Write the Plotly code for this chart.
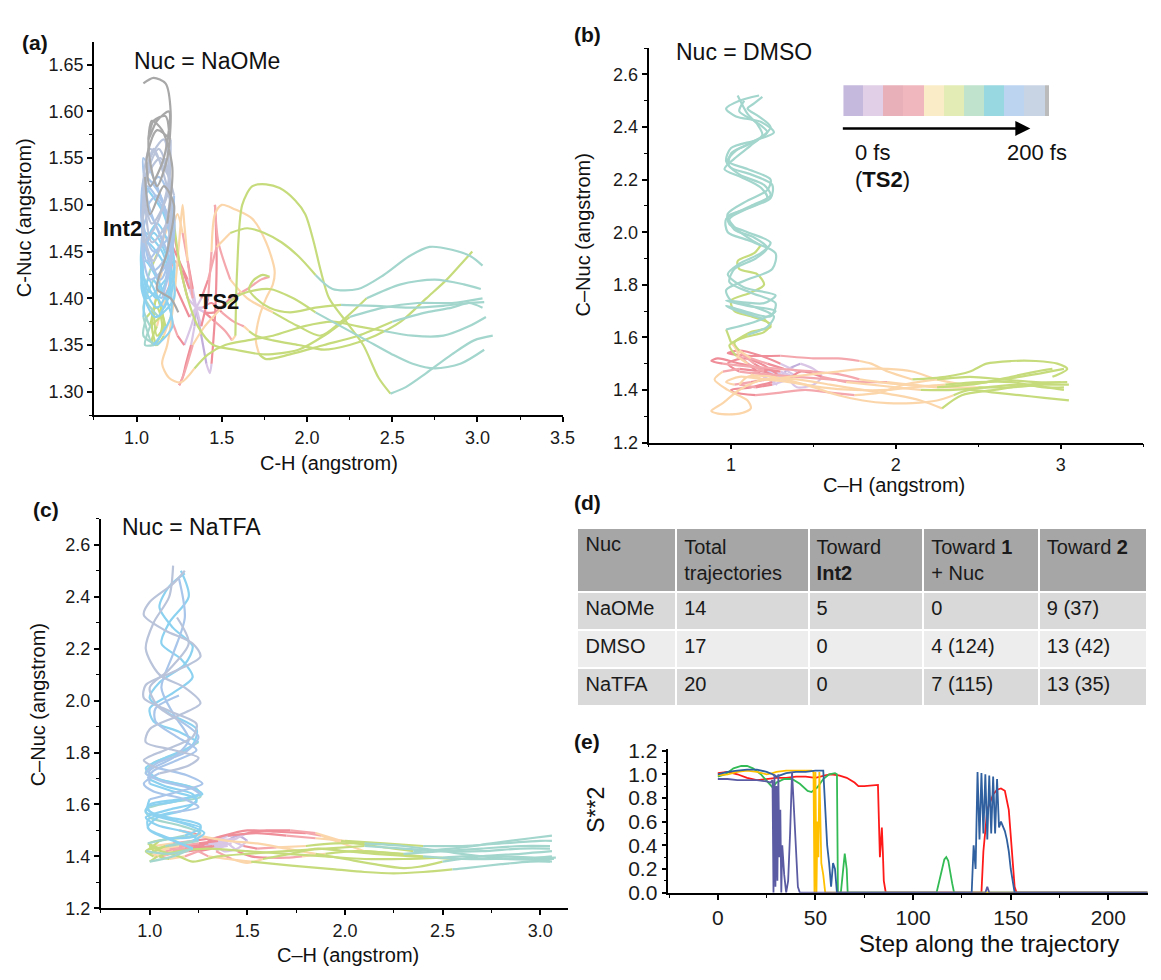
import plotly.graph_objects as go

W, H = 1161, 980
FONT = "Liberation Sans, Arial, sans-serif"


def px(x):
    return min(1.0, max(0.0, x / W))


def py(y):
    return min(1.0, max(0.0, 1 - y / H))


# ---------------- colours (time blocks 0..200 fs) ----------------
LINE_COLORS = ['#c2aedb', '#d9c6e6', '#ef8d98', '#f4a7ad', '#fcd6ab', '#c6dc7c',
               '#a3d6cd', '#8cd2f0', '#a9c6ea', '#b9c3da', '#a8a8a8']
BLOCK_COLORS = ['#c5b9de', '#e0cfe6', '#e8b0b8', '#f0b8be', '#faecc6', '#e3ecb4',
                '#bfe3cc', '#98d8e0', '#bcd4f0', '#c8d4e4']
BLOCK_END_COLOR = '#bbbbbb'

# ---------------- panel (a): Nuc = NaOMe ----------------
a_x = [
    [1.35,1.30,1.25,1.20,1.15,1.10,1.12,1.16,1.12,1.08,1.05,1.10,1.20,1.18,1.06,1.03,1.12,1.22,1.16,1.05,1.04,1.14,1.21,1.12,1.04,1.07,1.18,1.20,1.10,1.05,1.09,1.20,1.17],
    [1.35,1.31,1.27,1.22,1.19,1.14,1.08,1.04,1.10,1.19,1.22,1.12,1.04,1.06,1.15,1.21,1.14,1.05,1.03,1.10,1.19,1.22,1.14,1.06,1.04,1.10,1.18,1.21,1.15,1.09,1.07,1.12,1.18,1.20,1.17,1.10,1.04],
    [1.35,1.32,1.28,1.24,1.20,1.16,1.12,1.09,1.12,1.17,1.10,1.04,1.07,1.16,1.20,1.10,1.03,1.06,1.17,1.21,1.12,1.04,1.06,1.15,1.20,1.13,1.05,1.08,1.16,1.22,1.18,1.12,1.20,1.245],
    [1.35,1.30,1.26,1.22,1.21,1.15,1.08,1.05,1.13,1.20,1.15,1.05,1.03,1.12,1.21,1.17,1.06,1.03,1.10,1.20,1.19,1.08,1.04,1.09,1.18,1.20,1.12,1.06,1.08,1.16,1.19,1.12,1.07,1.10,1.17,1.19],
    [1.35,1.31,1.26,1.21,1.16,1.12,1.09,1.11,1.15,1.12,1.06,1.04,1.12,1.21,1.15,1.05,1.03,1.11,1.22,1.18,1.07,1.03,1.08,1.19,1.22,1.13,1.05,1.04,1.12,1.19,1.16,1.08,1.05],
    [1.35,1.40,1.46,1.52,1.56,1.58,1.59,1.62,1.68,1.76,1.84,1.93,1.99,2.04,2.08,2.13,2.23,2.33,2.42,2.49,2.58,2.70,2.85,2.98,3.09],
    [1.35,1.38,1.42,1.44,1.46,1.50,1.58,1.68,1.76,1.81,1.80,1.76,1.72,1.70,1.72,1.76,1.90,2.10,2.30,2.50,2.70,2.85,2.95,3.03],
    [1.35,1.39,1.44,1.50,1.57,1.63,1.66,1.70,1.80,1.95,2.10,2.25,2.40,2.55,2.70,2.82,2.92,2.97],
    [1.35,1.38,1.42,1.47,1.55,1.65,1.75,1.85,1.95,2.05,2.15,2.30,2.45,2.60,2.72,2.85,2.96,3.03],
    [1.35,1.33,1.30,1.27,1.24,1.22,1.25,1.30,1.36,1.45,1.58,1.75,1.95,2.10,2.25,2.45,2.65,2.85,3.03],
    [1.35,1.34,1.32,1.29,1.27,1.25,1.28,1.33,1.40,1.50,1.62,1.78,1.92,2.05,2.20,2.35,2.50,2.62,2.75,2.90,3.04],
    [1.35,1.40,1.46,1.55,1.65,1.73,1.78,1.74,1.69,1.66,1.70,1.78,1.90,2.05,2.20,2.40,2.60,2.80,2.95,3.04],
    [1.35,1.33,1.30,1.28,1.27,1.25,1.22,1.18,1.15,1.19,1.26,1.34,1.42,1.52,1.65,1.80,1.98,2.15,2.30,2.45,2.62,2.80,2.95,3.05],
    [1.35,1.38,1.41,1.43,1.44,1.46,1.47,1.465,1.46,1.48,1.55,1.65,1.80,1.95,2.08,2.20,2.35,2.55,2.75,2.92,3.02],
]
a_y = [
    [1.39,1.42,1.44,1.46,1.43,1.39,1.36,1.37,1.40,1.37,1.35,1.35,1.38,1.43,1.46,1.42,1.39,1.43,1.49,1.52,1.47,1.42,1.46,1.52,1.55,1.50,1.45,1.50,1.56,1.52,1.46,1.49,1.55],
    [1.39,1.41,1.43,1.44,1.41,1.38,1.37,1.39,1.42,1.40,1.44,1.48,1.45,1.41,1.40,1.45,1.51,1.53,1.48,1.43,1.45,1.51,1.55,1.53,1.47,1.44,1.48,1.54,1.58,1.59,1.56,1.52,1.55,1.60,1.63,1.636,1.63],
    [1.39,1.37,1.35,1.36,1.38,1.36,1.35,1.37,1.40,1.37,1.35,1.38,1.42,1.39,1.43,1.47,1.44,1.40,1.42,1.47,1.51,1.49,1.44,1.46,1.52,1.56,1.53,1.49,1.52,1.50,1.45,1.41,1.40,1.385],
    [1.39,1.40,1.43,1.47,1.49,1.46,1.43,1.40,1.38,1.41,1.45,1.47,1.43,1.40,1.44,1.49,1.52,1.49,1.45,1.47,1.53,1.56,1.52,1.48,1.51,1.57,1.58,1.55,1.52,1.55,1.60,1.59,1.57,1.59,1.595,1.58],
    [1.39,1.38,1.40,1.42,1.40,1.37,1.355,1.35,1.37,1.39,1.38,1.36,1.35,1.37,1.41,1.44,1.41,1.38,1.40,1.45,1.49,1.46,1.42,1.44,1.49,1.53,1.51,1.46,1.48,1.53,1.57,1.55,1.50],
    [1.39,1.385,1.375,1.365,1.355,1.36,1.43,1.50,1.52,1.522,1.518,1.505,1.49,1.46,1.43,1.40,1.375,1.35,1.315,1.298,1.305,1.32,1.34,1.355,1.36],
    [1.39,1.37,1.40,1.45,1.49,1.50,1.495,1.485,1.46,1.43,1.415,1.40,1.38,1.355,1.34,1.335,1.34,1.35,1.36,1.375,1.385,1.39,1.395,1.39],
    [1.39,1.39,1.395,1.385,1.375,1.37,1.365,1.36,1.355,1.35,1.345,1.35,1.36,1.375,1.40,1.42,1.44,1.45],
    [1.39,1.40,1.42,1.455,1.47,1.475,1.47,1.46,1.445,1.425,1.41,1.41,1.425,1.445,1.455,1.452,1.445,1.435],
    [1.39,1.41,1.44,1.47,1.49,1.48,1.44,1.40,1.37,1.35,1.345,1.34,1.345,1.36,1.38,1.39,1.395,1.395,1.40],
    [1.39,1.37,1.35,1.33,1.315,1.307,1.32,1.35,1.37,1.39,1.405,1.41,1.40,1.385,1.37,1.355,1.34,1.33,1.325,1.33,1.345],
    [1.39,1.385,1.385,1.40,1.41,1.42,1.423,1.425,1.42,1.41,1.40,1.39,1.385,1.39,1.393,1.392,1.39,1.392,1.395,1.396],
    [1.39,1.40,1.44,1.48,1.50,1.46,1.40,1.35,1.33,1.315,1.31,1.325,1.34,1.35,1.355,1.36,1.37,1.375,1.37,1.365,1.36,1.36,1.37,1.38],
    [1.39,1.36,1.33,1.32,1.33,1.38,1.44,1.48,1.50,1.46,1.42,1.40,1.385,1.37,1.36,1.375,1.40,1.415,1.42,1.415,1.41],
]
a_c = [
    [0,1,2,2,3,4,5,5,5,5,6,6,7,7,7,7,7,7,7,7,8,8,8,8,8,8,8,9,9,9,9,9,9],
    [0,1,2,3,3,4,5,6,6,7,7,7,7,7,7,8,8,8,8,8,8,8,9,9,9,9,9,10,10,10,10,10,10,10,10,10,10],
    [0,1,1,2,3,4,5,5,5,5,6,6,7,7,7,7,7,7,7,8,8,8,8,8,9,9,9,10,10,10,10,10,10,10],
    [0,1,2,2,3,4,5,6,6,7,7,7,7,7,7,8,8,8,8,8,8,9,9,9,9,9,10,10,10,10,10,10,10,10,10,10],
    [0,1,2,2,3,4,5,5,5,5,5,6,6,7,7,7,7,7,7,7,8,8,8,8,8,8,8,9,9,9,9,9,9],
    [0,1,2,3,3,4,5,5,5,5,5,5,5,5,5,5,5,5,5,5,6,6,6,6,6],
    [0,1,2,3,4,4,4,4,4,4,4,4,4,4,4,5,5,5,5,5,6,6,6,6],
    [0,1,2,2,3,3,4,5,5,5,5,5,5,5,5,5,5,5],
    [0,1,2,3,4,5,5,5,5,5,6,6,6,6,6,6,6,6],
    [0,1,2,3,4,4,5,5,5,5,5,5,5,5,5,6,6,6,6],
    [0,0,1,2,2,2,3,3,4,4,5,5,5,5,6,6,6,6,6,6,6],
    [0,1,2,2,3,3,3,5,5,5,5,5,5,5,5,6,6,6,6,6],
    [0,1,3,4,4,4,4,4,4,4,4,4,5,5,5,5,5,5,5,5,6,6,6,6],
    [0,0,0,1,1,2,2,2,2,3,3,4,4,5,5,5,5,6,6,6,6],
]

# ---------------- panel (b): Nuc = DMSO ----------------
b_x = [
    [1.40,1.32,1.22,1.12,1.05,1.02,1.10,1.22,1.26,1.12,1.00,0.97,1.10,1.25,1.27,1.10,0.98,0.97,1.12,1.24,1.20,1.05,0.97,1.00,1.15,1.26,1.18,1.03,0.97,1.05,1.17],
    [1.35,1.28,1.20,1.10,1.03,0.99,1.08,1.20,1.24,1.12,1.02,1.00,1.12,1.20,1.16,1.05,1.04,1.14,1.18,1.10,1.02,0.98,1.10,1.24,1.25,1.12,0.99,1.00,1.12,1.22,1.15,1.05,1.08],
    [1.30,1.22,1.14,1.06,1.00,0.97,1.15,1.27,1.10,0.97,1.20,1.27,1.08,0.98,1.05,1.18,1.24,1.10,0.99,0.98,1.10,1.22,1.24,1.10,0.98,1.03,1.16,1.24,1.17,1.10,1.14,1.19],
    [1.28,1.20,1.12,1.05,1.01,1.12,1.24,1.20,1.04,0.97,1.08,1.24,1.27,1.12,0.99,1.02,1.15,1.22,1.14,1.02,0.99,1.10,1.22,1.18,1.06,0.96,1.02,1.12,1.19,1.16,1.10,1.04],
    [1.35,1.20,1.05,0.92,0.88,0.95,1.10,1.30,1.50,1.65,1.78,1.90,2.05,2.25,2.45,2.65,2.85,3.02],
    [1.30,1.20,1.05,0.95,0.90,0.98,1.10,1.12,1.05,0.92,0.88,0.95,1.05,1.20,1.40,1.60,1.80,2.00,2.15,2.28,2.40,2.60,2.80,3.00],
    [1.40,1.30,1.18,1.05,0.98,1.10,1.30,1.50,1.65,1.78,1.85,1.95,2.10,2.30,2.45,2.55,2.70,2.85,2.98,3.04,2.95],
    [1.30,1.35,1.42,1.50,1.55,1.50,1.40,1.35,1.42,1.55,1.70,1.85,2.00,2.15,2.35,2.55,2.75,2.92,3.02],
    [1.35,1.25,1.15,1.05,1.10,1.25,1.45,1.65,1.80,1.95,2.10,2.25,2.35,2.45,2.60,2.75,2.90,3.05],
    [1.35,1.25,1.12,1.00,1.02,1.15,1.30,1.45,1.60,1.75,1.90,2.05,2.25,2.45,2.65,2.85,3.04],
    [1.32,1.22,1.12,1.02,0.97,1.05,1.20,1.35,1.55,1.75,1.95,2.10,2.30,2.50,2.70,2.90,3.02],
    [1.38,1.30,1.20,1.12,1.20,1.35,1.50,1.65,1.80,1.95,2.10,2.25,2.40,2.55,2.70,2.85,2.95],
    [1.35,1.28,1.18,1.08,0.98,1.05,1.20,1.40,1.60,1.80,1.95,2.10,2.30,2.50,2.70,2.90,3.05],
]
b_y = [
    [1.45,1.48,1.50,1.52,1.55,1.58,1.61,1.64,1.68,1.72,1.74,1.78,1.82,1.86,1.92,1.97,2.00,2.05,2.10,2.14,2.18,2.22,2.27,2.32,2.35,2.38,2.42,2.44,2.47,2.50,2.52],
    [1.43,1.45,1.47,1.50,1.53,1.57,1.60,1.62,1.65,1.68,1.70,1.74,1.77,1.80,1.84,1.86,1.89,1.92,1.95,1.98,2.02,2.06,2.09,2.13,2.18,2.22,2.25,2.30,2.34,2.38,2.42,2.46,2.50],
    [1.44,1.47,1.50,1.54,1.58,1.63,1.66,1.70,1.72,1.74,1.73,1.76,1.79,1.84,1.88,1.92,1.96,2.00,2.03,2.07,2.12,2.16,2.20,2.24,2.27,2.31,2.35,2.40,2.44,2.47,2.49,2.515],
    [1.42,1.45,1.49,1.53,1.58,1.62,1.64,1.67,1.70,1.72,1.70,1.68,1.73,1.77,1.81,1.86,1.90,1.94,1.98,2.01,2.05,2.09,2.13,2.17,2.21,2.24,2.28,2.33,2.37,2.41,2.45,2.52],
    [1.45,1.48,1.50,1.52,1.51,1.50,1.49,1.48,1.47,1.46,1.44,1.43,1.42,1.41,1.42,1.44,1.46,1.48],
    [1.45,1.47,1.48,1.47,1.44,1.40,1.36,1.33,1.31,1.31,1.32,1.35,1.40,1.44,1.44,1.42,1.40,1.38,1.36,1.33,1.38,1.40,1.42,1.43],
    [1.47,1.50,1.53,1.55,1.54,1.53,1.53,1.52,1.52,1.51,1.50,1.47,1.44,1.45,1.47,1.50,1.51,1.51,1.50,1.48,1.45],
    [1.45,1.48,1.50,1.48,1.45,1.42,1.41,1.44,1.47,1.45,1.43,1.42,1.41,1.40,1.40,1.41,1.42,1.41,1.40],
    [1.44,1.42,1.41,1.42,1.45,1.45,1.42,1.38,1.36,1.35,1.35,1.36,1.38,1.40,1.39,1.38,1.37,1.36],
    [1.46,1.43,1.41,1.40,1.39,1.38,1.39,1.40,1.39,1.38,1.39,1.42,1.44,1.45,1.44,1.43,1.43],
    [1.46,1.44,1.43,1.42,1.43,1.45,1.44,1.43,1.41,1.40,1.40,1.41,1.42,1.43,1.43,1.41,1.41],
    [1.45,1.47,1.48,1.46,1.44,1.45,1.46,1.47,1.48,1.48,1.47,1.44,1.42,1.43,1.45,1.47,1.48],
    [1.43,1.46,1.50,1.52,1.50,1.47,1.46,1.45,1.44,1.43,1.43,1.42,1.41,1.41,1.41,1.42,1.42],
]
b_c = [
    [0,1,2,3,4,5,5,6,6,6,6,6,6,6,6,6,6,6,6,6,6,6,6,6,6,6,6,6,6,6,6],
    [0,1,2,3,4,5,5,5,5,5,5,5,5,5,5,5,5,5,5,6,6,6,6,6,6,6,6,6,6,6,6,6,6],
    [0,1,2,3,4,5,6,6,6,6,6,6,6,6,6,6,6,6,6,6,6,6,6,6,6,6,6,6,6,6,6,6],
    [0,1,2,3,4,5,5,5,6,6,6,6,6,6,6,6,6,6,6,6,6,6,6,6,6,6,6,6,6,6,6,6],
    [0,1,2,2,2,2,3,3,3,3,3,4,4,4,5,5,5,5],
    [0,1,2,3,4,4,4,4,4,4,4,4,4,4,4,4,4,4,4,4,5,5,5,5],
    [0,1,2,2,2,2,2,3,3,3,4,4,4,5,5,5,5,5,5,5,5],
    [0,0,0,1,1,1,1,1,2,2,3,4,4,4,5,5,5,5,5],
    [0,1,2,3,4,4,4,4,4,4,4,4,4,5,5,5,5,5],
    [0,1,2,2,2,2,3,3,3,3,4,4,4,5,5,5,5],
    [0,1,2,3,4,4,4,4,4,4,4,4,4,5,5,5,5],
    [0,1,2,3,4,4,4,4,4,4,4,4,4,5,5,5,5],
    [0,1,2,2,2,2,3,3,3,3,3,4,4,4,5,5,5],
]

# ---------------- panel (c): Nuc = NaTFA ----------------
c_x = [
    [1.45,1.35,1.25,1.15,1.05,0.99,1.10,1.24,1.26,1.10,0.98,1.00,1.15,1.27,1.20,1.04,0.98,1.08,1.22,1.24,1.10,1.00,1.05,1.18,1.22,1.12,1.05,1.10,1.18],
    [1.42,1.32,1.22,1.12,1.02,0.98,1.10,1.22,1.12,1.00,0.99,1.12,1.25,1.18,1.02,0.97,1.05,1.20,1.25,1.12,0.98,1.00,1.14,1.26,1.18,1.05,0.98,1.02,1.10,1.12],
    [1.40,1.30,1.20,1.10,1.02,1.00,1.15,1.26,1.15,1.00,0.98,1.12,1.26,1.24,1.08,0.98,1.02,1.16,1.25,1.15,1.02,1.00,1.12,1.22,1.16,1.06,1.10,1.20,1.16],
    [1.38,1.28,1.18,1.08,1.00,1.05,1.18,1.26,1.12,0.99,1.00,1.15,1.27,1.20,1.04,0.97,1.08,1.22,1.24,1.10,0.97,0.98,1.12,1.26,1.22,1.08,0.97,1.00,1.12,1.18],
    [1.40,1.30,1.20,1.10,1.02,0.98,1.10,1.25,1.20,1.04,0.98,1.10,1.24,1.22,1.08,0.99,1.02,1.14,1.24,1.14,1.03,1.03,1.15],
    [1.36,1.26,1.16,1.06,1.00,1.08,1.22,1.28,1.16,1.02,0.99,1.12,1.26,1.22,1.06,0.98,1.04,1.18,1.25,1.16,1.04,1.00,1.10,1.20,1.14],
    [1.42,1.32,1.22,1.12,1.04,1.00,1.12,1.22,1.10,0.99,1.04,1.18,1.24,1.12,1.00,1.00,1.12,1.20,1.12,1.06,1.12,1.18,1.15],
    [1.42,1.50,1.60,1.72,1.85,1.98,2.15,2.35,2.55,2.75,2.95,3.06],
    [1.40,1.45,1.50,1.45,1.38,1.34,1.40,1.55,1.70,1.85,2.00,2.20,2.40,2.60,2.80,3.00,3.06],
    [1.40,1.32,1.25,1.30,1.40,1.52,1.65,1.80,1.95,2.10,2.25,2.40,2.55,2.62,2.80,2.95,3.05],
    [1.40,1.34,1.42,1.50,1.58,1.72,1.86,2.00,2.15,2.35,2.55,2.75,2.95,3.07],
    [1.42,1.35,1.30,1.38,1.50,1.65,1.80,1.88,1.95,2.10,2.30,2.50,2.70,2.90,3.05],
    [1.40,1.30,1.22,1.15,1.25,1.40,1.55,1.70,1.85,2.00,2.15,2.30,2.38,2.50,2.70,2.90,3.06],
    [1.40,1.45,1.52,1.60,1.70,1.78,1.90,2.05,2.20,2.40,2.60,2.80,3.00,3.06],
    [1.38,1.28,1.18,1.08,1.00,1.06,1.15,1.22,1.35,1.50,1.70,1.90,2.10,2.30,2.50,2.70,2.90,3.05],
    [1.42,1.48,1.55,1.65,1.80,1.95,2.10,2.30,2.50,2.70,2.90,3.06],
    [1.40,1.33,1.25,1.18,1.10,1.05,1.15,1.30,1.50,1.70,1.90,2.10,2.30,2.50,2.60,2.80,3.00,3.08],
]
c_y = [
    [1.47,1.46,1.45,1.44,1.43,1.45,1.47,1.48,1.52,1.55,1.57,1.60,1.62,1.64,1.67,1.70,1.74,1.78,1.83,1.89,1.95,2.01,2.07,2.14,2.21,2.28,2.36,2.44,2.49],
    [1.48,1.47,1.46,1.45,1.44,1.42,1.41,1.43,1.46,1.50,1.54,1.57,1.59,1.62,1.65,1.68,1.72,1.75,1.78,1.81,1.84,1.89,1.94,1.99,2.05,2.10,2.20,2.30,2.40,2.52],
    [1.46,1.45,1.44,1.43,1.42,1.45,1.47,1.49,1.52,1.55,1.58,1.61,1.63,1.66,1.69,1.72,1.76,1.80,1.84,1.88,1.92,1.97,2.03,2.09,2.16,2.22,2.30,2.40,2.50],
    [1.45,1.44,1.43,1.42,1.43,1.46,1.48,1.51,1.54,1.58,1.62,1.65,1.68,1.71,1.74,1.77,1.81,1.86,1.91,1.96,2.01,2.06,2.11,2.17,2.22,2.27,2.33,2.38,2.45,2.50],
    [1.44,1.43,1.42,1.41,1.40,1.42,1.44,1.46,1.49,1.52,1.55,1.58,1.61,1.64,1.67,1.70,1.73,1.77,1.81,1.86,1.92,1.97,2.02],
    [1.46,1.44,1.42,1.40,1.41,1.44,1.46,1.49,1.53,1.56,1.59,1.61,1.64,1.66,1.69,1.72,1.76,1.80,1.86,1.92,1.98,2.05,2.12,2.22,2.32],
    [1.45,1.44,1.43,1.42,1.40,1.38,1.40,1.43,1.47,1.51,1.55,1.58,1.62,1.65,1.68,1.73,1.78,1.85,1.95,2.05,2.18,2.32,2.47],
    [1.46,1.49,1.50,1.50,1.49,1.46,1.44,1.42,1.43,1.45,1.47,1.48],
    [1.46,1.48,1.46,1.43,1.42,1.45,1.48,1.49,1.48,1.47,1.46,1.45,1.44,1.44,1.45,1.46,1.46],
    [1.45,1.43,1.42,1.40,1.39,1.38,1.37,1.36,1.35,1.34,1.335,1.34,1.35,1.355,1.37,1.38,1.38],
    [1.45,1.42,1.39,1.375,1.39,1.41,1.43,1.42,1.41,1.40,1.39,1.39,1.39,1.39],
    [1.46,1.47,1.46,1.48,1.50,1.495,1.49,1.48,1.46,1.42,1.41,1.42,1.43,1.44,1.44],
    [1.45,1.47,1.49,1.50,1.48,1.46,1.45,1.43,1.41,1.39,1.37,1.355,1.36,1.38,1.40,1.41,1.42],
    [1.45,1.42,1.40,1.395,1.395,1.40,1.41,1.42,1.415,1.40,1.39,1.39,1.385,1.38],
    [1.45,1.44,1.43,1.42,1.44,1.42,1.40,1.38,1.40,1.41,1.42,1.43,1.44,1.43,1.42,1.42,1.43,1.43],
    [1.46,1.44,1.43,1.435,1.44,1.45,1.45,1.44,1.42,1.40,1.39,1.40],
    [1.45,1.44,1.42,1.40,1.39,1.40,1.42,1.43,1.42,1.41,1.40,1.39,1.39,1.395,1.40,1.40,1.395,1.395],
]
c_c = [
    [0,1,2,3,4,5,6,7,7,7,7,7,7,7,7,7,7,7,7,7,7,7,7,7,7,7,7,7,7],
    [0,1,2,3,4,5,6,6,7,7,7,7,8,8,8,8,8,9,9,9,9,9,9,9,9,9,9,9,9,9],
    [0,1,2,3,4,5,5,6,6,6,6,6,6,6,6,6,6,6,6,7,7,7,7,7,7,7,7,7,7],
    [0,1,2,3,4,5,6,7,7,7,7,8,8,8,8,9,9,9,9,9,9,9,9,9,9,9,9,9,9,9],
    [0,1,2,3,4,5,5,6,7,7,7,7,7,7,7,7,8,8,8,8,8,8,8],
    [0,1,2,3,4,5,6,7,7,7,7,7,7,8,8,8,8,8,8,8,9,9,9,9,9],
    [0,1,2,3,4,5,6,6,7,7,7,7,7,7,7,8,8,8,8,8,8,8,8],
    [0,1,2,2,3,4,5,5,6,6,6,6],
    [0,0,0,1,1,1,1,2,2,3,4,5,5,6,6,6,6],
    [0,1,2,3,4,4,5,5,5,5,5,5,5,6,6,6,6],
    [0,1,3,4,4,5,5,5,5,5,5,6,6,6],
    [0,1,2,2,2,2,2,3,4,4,5,6,6,6,6],
    [0,1,2,3,4,4,4,4,4,5,5,5,5,5,6,6,6],
    [0,1,2,2,3,3,4,5,5,5,6,6,6,6],
    [0,1,2,3,4,5,5,5,5,5,5,5,5,6,6,6,6,6],
    [0,1,2,3,4,5,5,6,6,6,6,6],
    [0,1,2,3,4,5,5,5,5,5,5,5,5,5,6,6,6,6],
]

# ---------------- panel (d): table ----------------
table_header = ['Nuc', 'Total<br>trajectories', 'Toward<br><b>Int2</b>',
                'Toward <b>1</b><br>+ Nuc', 'Toward <b>2</b>']
nuc_names = ['NaOMe', 'DMSO', 'NaTFA']
total_traj = ['14', '17', '20']
toward_int2 = ['5', '0', '0']
toward_1 = ['0', '4 (124)', '7 (115)']
toward_2 = ['9 (37)', '13 (42)', '13 (35)']

# ---------------- panel (e): S**2 along trajectory ----------------
red_steps = [0,5,10,15,20,25,30,35,40,45,50,55,58,62,66,70,72,75,80,82,83,84,84.5,85,86,135,136,138,141,143,145,147,149,150,151,152,153,220]
red_vals = [1.01,1.02,1.00,0.97,0.95,0.96,0.97,0.97,0.98,0.98,0.97,0.99,1.00,0.99,0.97,0.93,0.90,0.90,0.91,0.91,0.30,0.55,0.35,0.10,0.0,0.0,0.35,0.70,0.83,0.87,0.88,0.86,0.70,0.50,0.25,0.05,0.0,0.0]
green_steps = [0,4,8,12,15,18,22,26,28,30,34,38,42,46,48,51,54,57,60,61,61.5,63,64,65,66,66.5,112,114,116,117,118,120,121,220]
green_vals = [0.98,1.00,1.05,1.07,1.07,1.05,1.00,0.93,0.89,0.93,0.96,0.96,0.92,0.86,0.85,0.89,0.96,1.00,1.01,1.00,0.0,0.0,0.15,0.33,0.2,0.0,0.0,0.15,0.28,0.30,0.27,0.08,0.0,0.0]
yellow_steps = [0,5,10,15,20,25,28,30,35,40,45,48,49,49.5,50,50.5,51,51.5,52,52.5,53,54,55,56,220]
yellow_vals = [0.99,1.00,1.02,1.03,1.02,1.00,1.01,1.02,1.03,1.03,1.03,1.03,1.02,0.0,1.02,0.0,0.6,0.3,1.02,0.5,0.25,0.15,0.0,0.0,0.0]
blue_steps = [0,5,10,15,20,25,28,30,35,40,45,50,54,55,56,57,58,59,60,61,62,
              130,131,132,133,134,135,136,137,138,139,140,141,142,143,144,145,146,147,148,149,150,151,152,220]
blue_vals = [1.00,1.02,1.03,1.04,1.04,1.02,1.00,0.98,1.01,1.02,1.02,1.03,1.03,0.70,0.40,0.25,0.05,0.25,0.20,0.0,0.0,
             0.0,0.40,0.20,1.02,0.45,1.01,0.50,1.00,0.45,0.99,0.50,0.98,0.50,0.96,0.55,0.60,0.56,0.52,0.45,0.35,0.20,0.08,0.0,0.0]
purple_steps = [0,5,10,15,20,25,27,28,28.5,29,29.5,30,30.5,31,31.5,32,32.5,33,34,35,36,37,38,39,40,41,42,137,138,139,140,220]
purple_vals = [0.96,0.96,0.95,0.95,0.95,0.94,0.93,0.95,0.0,1.0,0.05,0.9,0.1,1.0,0.3,0.7,0.0,0.4,0.15,0.0,0.1,0.5,1.02,0.7,0.3,0.05,0.0,0.0,0.05,0.0,0.0,0.0]
e_series = [(red_steps, red_vals, '#ff1a1a'), (green_steps, green_vals, '#33bb55'),
            (yellow_steps, yellow_vals, '#ffc000'), (blue_steps, blue_vals, '#30609f'),
            (purple_steps, purple_vals, '#5b5ba3')]

fig = go.Figure()


def add_trajectories(tx_all, ty_all, tc_all, xa, ya):
    for ci, col in enumerate(LINE_COLORS):
        xs, ys = [], []
        for tx, ty, tc in zip(tx_all, ty_all, tc_all):
            n = min(len(tx), len(ty), len(tc))
            run = []
            for i in range(1, n):
                if tc[i] == ci:
                    if not run:
                        run = [(tx[i - 1], ty[i - 1])]
                    run.append((tx[i], ty[i]))
                else:
                    if run:
                        xs += [p[0] for p in run] + [None]
                        ys += [p[1] for p in run] + [None]
                    run = []
            if run:
                xs += [p[0] for p in run] + [None]
                ys += [p[1] for p in run] + [None]
        if xs:
            fig.add_trace(go.Scatter(x=xs, y=ys, mode='lines', xaxis=xa, yaxis=ya,
                                     line=dict(color=col, width=2.2, shape='spline', smoothing=0.8),
                                     hoverinfo='skip', showlegend=False))


add_trajectories(a_x, a_y, a_c, 'x', 'y')
add_trajectories(b_x, b_y, b_c, 'x2', 'y2')
add_trajectories(c_x, c_y, c_c, 'x3', 'y3')

for st, vals, col in e_series:
    fig.add_trace(go.Scatter(x=st, y=vals, mode='lines', xaxis='x4', yaxis='y4',
                             line=dict(color=col, width=1.8), hoverinfo='skip', showlegend=False))

# time colour bar in panel (b)
fig.add_trace(go.Bar(x=list(range(len(BLOCK_COLORS))), y=[1] * len(BLOCK_COLORS), width=1,
                     marker=dict(color=BLOCK_COLORS, line=dict(width=0)),
                     xaxis='x5', yaxis='y5', hoverinfo='skip', showlegend=False))
fig.add_trace(go.Bar(x=[9.6], y=[1], width=0.2, marker=dict(color=BLOCK_END_COLOR, line=dict(width=0)),
                     xaxis='x5', yaxis='y5', hoverinfo='skip', showlegend=False))

# table (d)
fig.add_trace(go.Table(
    domain=dict(x=[px(584), 1.0], y=[py(716), py(529)]),
    columnwidth=[100, 134, 116, 117, 110],
    header=dict(values=table_header, fill_color='#a6a6a6', line=dict(color='white', width=2),
                align='left', height=64, font=dict(family=FONT, size=20, color='#1a1a1a')),
    cells=dict(values=[nuc_names, total_traj, toward_int2, toward_1, toward_2],
               fill_color=[['#d9d9d9', '#ededed', '#d9d9d9']] * 5,
               line=dict(color='white', width=2), align='left', height=38,
               font=dict(family=FONT, size=20, color='#1a1a1a')),
))


def axis(domain, rng, dtick, mdtick, fmt, anchor, fsize=18):
    return dict(domain=domain, range=rng, dtick=dtick, tick0=0, tickformat=fmt,
                showline=True, linecolor='black', linewidth=1.8, ticks='outside',
                ticklen=5, tickwidth=1.5, tickcolor='black',
                minor=dict(dtick=mdtick, tick0=0, ticks='outside', ticklen=3,
                           tickcolor='black', tickwidth=1, showgrid=False),
                showgrid=False, zeroline=False, anchor=anchor, fixedrange=True,
                tickfont=dict(family=FONT, size=fsize, color='#1a1a1a'))


fig.update_layout(
    width=W, height=H, margin=dict(l=0, r=0, t=0, b=0),
    paper_bgcolor='white', plot_bgcolor='white', showlegend=False, bargap=0,
    font=dict(family=FONT, color='#111111'),
    xaxis=axis([px(95), px(569)], [0.75, 3.5], 0.5, 0.25, '.1f', 'y'),
    yaxis=axis([py(414), py(33)], [1.275, 1.674], 0.05, 0.025, '.2f', 'x'),
    xaxis2=axis([px(656), px(1156)], [0.5, 3.5], 1, 0.5, 'd', 'y2'),
    yaxis2=axis([py(442), py(39)], [1.2, 2.7], 0.2, 0.1, '.1f', 'x2'),
    xaxis3=axis([px(102), px(574)], [0.75, 3.14], 0.5, 0.25, '.1f', 'y3'),
    yaxis3=axis([py(918), py(520)], [1.2, 2.7], 0.2, 0.1, '.1f', 'x3'),
    xaxis4=axis([px(676), 1.0], [-25.3, 220.3], 50, 25, 'd', 'y4', 21),
    yaxis4=axis([py(902), py(755)], [0, 1.215], 0.2, 0.1, '.1f', 'x4', 21),
    xaxis5=dict(domain=[px(853), px(1061)], range=[-0.5, 9.7], visible=False, anchor='y5', fixedrange=True),
    yaxis5=dict(domain=[py(109), py(77)], range=[0, 1], visible=False, anchor='x5', fixedrange=True),
)

ann = []


def text(x, y, s, size, xanchor='left', angle=0, bold=False):
    ann.append(dict(x=px(x), y=py(y), xref='paper', yref='paper', text=('<b>%s</b>' % s) if bold else s,
                    showarrow=False, xanchor=xanchor, yanchor='middle', textangle=angle,
                    font=dict(family=FONT, size=size, color='#111111')))


text(20, 33, '(a)', 21, bold=True)
text(134, 52, 'Nuc = NaOMe', 23)
text(102, 223, 'Int2', 22, bold=True)
text(199, 298, 'TS2', 22, bold=True)
text(25, 212, 'C-Nuc (angstrom)', 20, 'center', -90)
text(333, 463, 'C-H (angstrom)', 20, 'center')

text(578, 25, '(b)', 21, bold=True)
text(682, 43, 'Nuc = DMSO', 23)
text(863, 146, '0 fs', 22)
text(1016, 146, '200 fs', 22)
text(863, 173, '(<b>TS2</b>)', 22)
text(590, 230, 'C–Nuc (angstrom)', 20, 'center', -90)
text(904, 485, 'C–H (angstrom)', 20, 'center')

text(31, 510, '(c)', 21, bold=True)
text(121, 528, 'Nuc = NaTFA', 23)
text(38, 710, 'C–Nuc (angstrom)', 20, 'center', -90)
text(352, 966, 'C–H (angstrom)', 20, 'center')

text(578, 503, '(d)', 21, bold=True)
text(578, 748, '(e)', 21, bold=True)
text(603, 817, 'S**2', 23, 'center', -90)
text(1000, 954, 'Step along the trajectory', 24, 'center')

# arrow under colour bar
ann.append(dict(x=px(1042), y=py(121), ax=-189, ay=0, xref='paper', yref='paper',
                axref='pixel', ayref='pixel', text='', showarrow=True, arrowhead=2,
                arrowsize=1.2, arrowwidth=2.5, arrowcolor='black'))

fig.update_layout(annotations=ann)

# remove the browser's default body margin so the 1161x980 figure fills the window exactly
PAGE_FIX = ("document.documentElement.style.margin='0';document.body.style.margin='0';"
            "document.documentElement.style.overflow='hidden';document.body.style.overflow='hidden';")
fig.write_html("out.html", post_script=PAGE_FIX, config={'displayModeBar': False})
